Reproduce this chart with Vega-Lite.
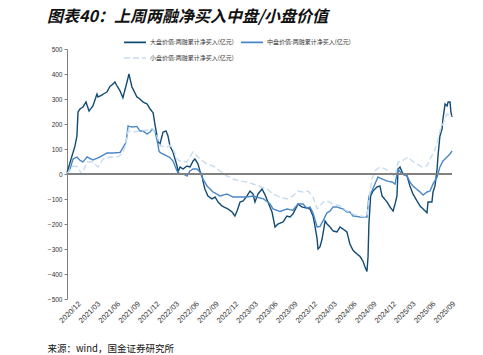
{
"$schema": "https://vega.github.io/schema/vega-lite/v6.json",
"width": 385,
"height": 250,
"autosize": {"type": "none"},
"padding": {"left": 67, "top": 49, "right": 31, "bottom": 56},
"background": "white",
"title": {"text": "图表40：上周两融净买入中盘/小盘价值", "anchor": "start", "frame": "group", "dx": -20, "offset": 5, "font": "Noto Sans CJK SC", "fontSize": 16, "fontWeight": "bold", "fontStyle": "italic", "color": "#111111"},
"config": {
  "view": {"stroke": null},
  "font": "Noto Sans CJK SC",
  "axisY": {"labelOverlap": false, "tickCount": 11},
  "legend": {"orient": "none", "legendX": 56, "legendY": -19, "columns": 2, "symbolType": "stroke", "symbolSize": 480, "symbolStrokeWidth": 1.6, "labelFontSize": 6, "labelFont": "Noto Sans CJK SC", "labelColor": "#333333", "rowPadding": -9, "columnPadding": 3, "labelOffset": 3, "title": null, "padding": 0}
},
"data": {"values": [
{"d":"2020-12-01","s":"大盘","v":5},{"d":"2020-12-24","s":"大盘","v":72},{"d":"2021-01-07","s":"大盘","v":112},{"d":"2021-01-16","s":"大盘","v":152},{"d":"2021-01-21","s":"大盘","v":248},{"d":"2021-01-30","s":"大盘","v":260},{"d":"2021-02-13","s":"大盘","v":268},{"d":"2021-02-27","s":"大盘","v":288},{"d":"2021-03-13","s":"大盘","v":252},{"d":"2021-03-31","s":"大盘","v":272},{"d":"2021-04-19","s":"大盘","v":320},{"d":"2021-04-24","s":"大盘","v":308},{"d":"2021-05-03","s":"大盘","v":312},{"d":"2021-06-04","s":"大盘","v":328},{"d":"2021-06-18","s":"大盘","v":350},{"d":"2021-07-02","s":"大盘","v":360},{"d":"2021-07-11","s":"大盘","v":368},{"d":"2021-07-21","s":"大盘","v":352},{"d":"2021-08-04","s":"大盘","v":332},{"d":"2021-08-17","s":"大盘","v":305},{"d":"2021-09-05","s":"大盘","v":368},{"d":"2021-09-14","s":"大盘","v":400},{"d":"2021-09-28","s":"大盘","v":348},{"d":"2021-10-21","s":"大盘","v":308},{"d":"2021-11-04","s":"大盘","v":300},{"d":"2021-11-18","s":"大盘","v":288},{"d":"2021-12-07","s":"大盘","v":280},{"d":"2021-12-21","s":"大盘","v":260},{"d":"2022-01-04","s":"大盘","v":245},{"d":"2022-01-13","s":"大盘","v":196},{"d":"2022-01-27","s":"大盘","v":128},{"d":"2022-02-05","s":"大盘","v":120},{"d":"2022-02-19","s":"大盘","v":168},{"d":"2022-03-05","s":"大盘","v":172},{"d":"2022-03-14","s":"大盘","v":152},{"d":"2022-03-23","s":"大盘","v":112},{"d":"2022-04-06","s":"大盘","v":88},{"d":"2022-04-25","s":"大盘","v":32},{"d":"2022-04-29","s":"大盘","v":8},{"d":"2022-05-09","s":"大盘","v":28},{"d":"2022-05-23","s":"大盘","v":20},{"d":"2022-06-10","s":"大盘","v":32},{"d":"2022-06-24","s":"大盘","v":28},{"d":"2022-07-08","s":"大盘","v":52},{"d":"2022-07-17","s":"大盘","v":60},{"d":"2022-07-31","s":"大盘","v":40},{"d":"2022-08-09","s":"大盘","v":12},{"d":"2022-08-19","s":"大盘","v":-8},{"d":"2022-08-23","s":"大盘","v":-28},{"d":"2022-09-01","s":"大盘","v":-60},{"d":"2022-09-15","s":"大盘","v":-88},{"d":"2022-10-04","s":"大盘","v":-100},{"d":"2022-10-18","s":"大盘","v":-92},{"d":"2022-11-01","s":"大盘","v":-112},{"d":"2022-11-19","s":"大盘","v":-128},{"d":"2022-12-17","s":"大盘","v":-140},{"d":"2023-01-05","s":"大盘","v":-152},{"d":"2023-01-18","s":"大盘","v":-168},{"d":"2023-01-28","s":"大盘","v":-148},{"d":"2023-02-11","s":"大盘","v":-112},{"d":"2023-02-25","s":"大盘","v":-108},{"d":"2023-03-15","s":"大盘","v":-88},{"d":"2023-03-29","s":"大盘","v":-68},{"d":"2023-04-12","s":"大盘","v":-80},{"d":"2023-04-21","s":"大盘","v":-112},{"d":"2023-05-05","s":"大盘","v":-80},{"d":"2023-05-24","s":"大盘","v":-60},{"d":"2023-06-07","s":"大盘","v":-84},{"d":"2023-06-20","s":"大盘","v":-112},{"d":"2023-07-09","s":"大盘","v":-152},{"d":"2023-07-23","s":"大盘","v":-212},{"d":"2023-08-06","s":"大盘","v":-200},{"d":"2023-08-29","s":"大盘","v":-192},{"d":"2023-09-16","s":"大盘","v":-168},{"d":"2023-09-30","s":"大盘","v":-172},{"d":"2023-10-14","s":"大盘","v":-160},{"d":"2023-11-02","s":"大盘","v":-128},{"d":"2023-11-06","s":"大盘","v":-120},{"d":"2023-11-25","s":"大盘","v":-132},{"d":"2023-12-18","s":"大盘","v":-136},{"d":"2024-01-01","s":"大盘","v":-140},{"d":"2024-01-15","s":"大盘","v":-168},{"d":"2024-01-24","s":"大盘","v":-208},{"d":"2024-02-03","s":"大盘","v":-260},{"d":"2024-02-07","s":"大盘","v":-300},{"d":"2024-02-16","s":"大盘","v":-292},{"d":"2024-02-26","s":"大盘","v":-260},{"d":"2024-03-11","s":"大盘","v":-188},{"d":"2024-03-20","s":"大盘","v":-200},{"d":"2024-04-03","s":"大盘","v":-212},{"d":"2024-04-17","s":"大盘","v":-228},{"d":"2024-05-05","s":"大盘","v":-232},{"d":"2024-05-19","s":"大盘","v":-212},{"d":"2024-06-02","s":"大盘","v":-220},{"d":"2024-06-20","s":"大盘","v":-232},{"d":"2024-07-04","s":"大盘","v":-280},{"d":"2024-07-18","s":"大盘","v":-305},{"d":"2024-08-06","s":"大盘","v":-320},{"d":"2024-08-20","s":"大盘","v":-330},{"d":"2024-09-03","s":"大盘","v":-350},{"d":"2024-09-12","s":"大盘","v":-372},{"d":"2024-09-21","s":"大盘","v":-390},{"d":"2024-09-26","s":"大盘","v":-330},{"d":"2024-09-30","s":"大盘","v":-200},{"d":"2024-10-08","s":"大盘","v":-88},{"d":"2024-10-19","s":"大盘","v":-68},{"d":"2024-11-06","s":"大盘","v":-52},{"d":"2024-11-20","s":"大盘","v":-48},{"d":"2024-11-30","s":"大盘","v":-88},{"d":"2024-12-23","s":"大盘","v":-112},{"d":"2025-01-06","s":"大盘","v":-132},{"d":"2025-01-20","s":"大盘","v":-148},{"d":"2025-01-29","s":"大盘","v":-120},{"d":"2025-02-07","s":"大盘","v":-88},{"d":"2025-02-12","s":"大盘","v":20},{"d":"2025-02-21","s":"大盘","v":28},{"d":"2025-03-07","s":"大盘","v":0},{"d":"2025-03-26","s":"大盘","v":-8},{"d":"2025-04-08","s":"大盘","v":-48},{"d":"2025-04-22","s":"大盘","v":-80},{"d":"2025-05-11","s":"大盘","v":-108},{"d":"2025-05-25","s":"大盘","v":-128},{"d":"2025-06-08","s":"大盘","v":-140},{"d":"2025-06-26","s":"大盘","v":-155},{"d":"2025-07-01","s":"大盘","v":-112},{"d":"2025-07-19","s":"大盘","v":-112},{"d":"2025-07-24","s":"大盘","v":-72},{"d":"2025-08-02","s":"大盘","v":-48},{"d":"2025-08-12","s":"大盘","v":20},{"d":"2025-08-16","s":"大盘","v":72},{"d":"2025-08-25","s":"大盘","v":152},{"d":"2025-09-04","s":"大盘","v":180},{"d":"2025-09-08","s":"大盘","v":220},{"d":"2025-09-18","s":"大盘","v":280},{"d":"2025-09-27","s":"大盘","v":272},{"d":"2025-10-02","s":"大盘","v":288},{"d":"2025-10-11","s":"大盘","v":288},{"d":"2025-10-15","s":"大盘","v":248},{"d":"2025-10-20","s":"大盘","v":228},
{"d":"2020-12-01","s":"中盘","v":0},{"d":"2020-12-15","s":"中盘","v":20},{"d":"2020-12-29","s":"中盘","v":60},{"d":"2021-01-16","s":"中盘","v":68},{"d":"2021-01-30","s":"中盘","v":55},{"d":"2021-02-13","s":"中盘","v":48},{"d":"2021-03-04","s":"中盘","v":68},{"d":"2021-03-31","s":"中盘","v":56},{"d":"2021-05-03","s":"中盘","v":68},{"d":"2021-06-04","s":"中盘","v":84},{"d":"2021-07-02","s":"中盘","v":84},{"d":"2021-08-04","s":"中盘","v":86},{"d":"2021-08-27","s":"中盘","v":120},{"d":"2021-09-01","s":"中盘","v":128},{"d":"2021-09-10","s":"中盘","v":192},{"d":"2021-09-28","s":"中盘","v":188},{"d":"2021-10-21","s":"中盘","v":190},{"d":"2021-11-04","s":"中盘","v":172},{"d":"2021-11-18","s":"中盘","v":172},{"d":"2021-12-07","s":"中盘","v":160},{"d":"2021-12-21","s":"中盘","v":168},{"d":"2021-12-30","s":"中盘","v":180},{"d":"2022-01-13","s":"中盘","v":170},{"d":"2022-01-27","s":"中盘","v":116},{"d":"2022-01-31","s":"中盘","v":92},{"d":"2022-02-05","s":"中盘","v":86},{"d":"2022-02-19","s":"中盘","v":80},{"d":"2022-03-09","s":"中盘","v":72},{"d":"2022-03-23","s":"中盘","v":66},{"d":"2022-04-06","s":"中盘","v":52},{"d":"2022-04-25","s":"中盘","v":12},{"d":"2022-05-09","s":"中盘","v":0},{"d":"2022-05-23","s":"中盘","v":0},{"d":"2022-06-10","s":"中盘","v":-8},{"d":"2022-06-24","s":"中盘","v":12},{"d":"2022-07-08","s":"中盘","v":20},{"d":"2022-07-26","s":"中盘","v":20},{"d":"2022-08-09","s":"中盘","v":8},{"d":"2022-08-23","s":"中盘","v":-20},{"d":"2022-09-11","s":"中盘","v":-48},{"d":"2022-09-25","s":"中盘","v":-60},{"d":"2022-10-09","s":"中盘","v":-72},{"d":"2022-10-27","s":"中盘","v":-80},{"d":"2022-11-10","s":"中盘","v":-88},{"d":"2022-12-12","s":"中盘","v":-80},{"d":"2023-01-09","s":"中盘","v":-92},{"d":"2023-02-11","s":"中盘","v":-92},{"d":"2023-03-15","s":"中盘","v":-92},{"d":"2023-04-12","s":"中盘","v":-88},{"d":"2023-05-14","s":"中盘","v":-96},{"d":"2023-05-31","s":"中盘","v":-100},{"d":"2023-06-16","s":"中盘","v":-110},{"d":"2023-06-30","s":"中盘","v":-120},{"d":"2023-07-14","s":"中盘","v":-140},{"d":"2023-08-15","s":"中盘","v":-150},{"d":"2023-09-16","s":"中盘","v":-140},{"d":"2023-10-14","s":"中盘","v":-145},{"d":"2023-11-06","s":"中盘","v":-120},{"d":"2023-11-30","s":"中盘","v":-120},{"d":"2023-12-18","s":"中盘","v":-138},{"d":"2024-01-01","s":"中盘","v":-132},{"d":"2024-01-15","s":"中盘","v":-156},{"d":"2024-02-03","s":"中盘","v":-212},{"d":"2024-02-16","s":"中盘","v":-210},{"d":"2024-03-01","s":"中盘","v":-188},{"d":"2024-03-20","s":"中盘","v":-155},{"d":"2024-04-03","s":"中盘","v":-148},{"d":"2024-04-17","s":"中盘","v":-132},{"d":"2024-05-05","s":"中盘","v":-132},{"d":"2024-06-02","s":"中盘","v":-140},{"d":"2024-06-20","s":"中盘","v":-152},{"d":"2024-07-04","s":"中盘","v":-152},{"d":"2024-07-18","s":"中盘","v":-168},{"d":"2024-08-06","s":"中盘","v":-170},{"d":"2024-08-20","s":"中盘","v":-172},{"d":"2024-09-21","s":"中盘","v":-172},{"d":"2024-09-30","s":"中盘","v":-88},{"d":"2024-10-14","s":"中盘","v":-68},{"d":"2024-10-28","s":"中盘","v":-40},{"d":"2024-11-11","s":"中盘","v":-12},{"d":"2024-11-30","s":"中盘","v":-20},{"d":"2024-12-23","s":"中盘","v":-28},{"d":"2025-01-15","s":"中盘","v":-32},{"d":"2025-01-29","s":"中盘","v":-40},{"d":"2025-02-12","s":"中盘","v":20},{"d":"2025-03-02","s":"中盘","v":0},{"d":"2025-03-26","s":"中盘","v":-8},{"d":"2025-04-08","s":"中盘","v":-32},{"d":"2025-04-22","s":"中盘","v":-48},{"d":"2025-05-25","s":"中盘","v":-72},{"d":"2025-06-08","s":"中盘","v":-84},{"d":"2025-06-26","s":"中盘","v":-72},{"d":"2025-07-10","s":"中盘","v":-68},{"d":"2025-07-24","s":"中盘","v":-40},{"d":"2025-08-12","s":"中盘","v":-12},{"d":"2025-08-25","s":"中盘","v":28},{"d":"2025-09-08","s":"中盘","v":52},{"d":"2025-09-27","s":"中盘","v":68},{"d":"2025-10-11","s":"中盘","v":80},{"d":"2025-10-20","s":"中盘","v":92},
{"d":"2020-12-01","s":"小盘","v":0},{"d":"2020-12-29","s":"小盘","v":32},{"d":"2021-01-16","s":"小盘","v":30},{"d":"2021-02-08","s":"小盘","v":0},{"d":"2021-03-04","s":"小盘","v":48},{"d":"2021-03-31","s":"小盘","v":48},{"d":"2021-04-24","s":"小盘","v":28},{"d":"2021-05-17","s":"小盘","v":60},{"d":"2021-06-18","s":"小盘","v":68},{"d":"2021-07-21","s":"小盘","v":68},{"d":"2021-08-13","s":"小盘","v":80},{"d":"2021-08-27","s":"小盘","v":108},{"d":"2021-09-10","s":"小盘","v":172},{"d":"2021-10-03","s":"小盘","v":168},{"d":"2021-11-04","s":"小盘","v":172},{"d":"2021-12-07","s":"小盘","v":176},{"d":"2021-12-21","s":"小盘","v":180},{"d":"2022-01-04","s":"小盘","v":180},{"d":"2022-01-22","s":"小盘","v":152},{"d":"2022-02-05","s":"小盘","v":112},{"d":"2022-03-09","s":"小盘","v":108},{"d":"2022-03-23","s":"小盘","v":115},{"d":"2022-04-06","s":"小盘","v":100},{"d":"2022-04-25","s":"小盘","v":60},{"d":"2022-05-09","s":"小盘","v":52},{"d":"2022-06-10","s":"小盘","v":48},{"d":"2022-06-24","s":"小盘","v":68},{"d":"2022-07-08","s":"小盘","v":88},{"d":"2022-07-26","s":"小盘","v":72},{"d":"2022-08-09","s":"小盘","v":60},{"d":"2022-09-11","s":"小盘","v":40},{"d":"2022-10-09","s":"小盘","v":32},{"d":"2022-11-10","s":"小盘","v":12},{"d":"2022-12-12","s":"小盘","v":-8},{"d":"2023-01-09","s":"小盘","v":-20},{"d":"2023-02-11","s":"小盘","v":-28},{"d":"2023-03-15","s":"小盘","v":-32},{"d":"2023-04-12","s":"小盘","v":-40},{"d":"2023-05-14","s":"小盘","v":-50},{"d":"2023-06-16","s":"小盘","v":-60},{"d":"2023-07-14","s":"小盘","v":-80},{"d":"2023-08-15","s":"小盘","v":-92},{"d":"2023-09-16","s":"小盘","v":-100},{"d":"2023-10-14","s":"小盘","v":-88},{"d":"2023-11-06","s":"小盘","v":-68},{"d":"2023-11-30","s":"小盘","v":-72},{"d":"2023-12-23","s":"小盘","v":-68},{"d":"2024-01-15","s":"小盘","v":-92},{"d":"2024-02-03","s":"小盘","v":-140},{"d":"2024-02-16","s":"小盘","v":-130},{"d":"2024-03-01","s":"小盘","v":-112},{"d":"2024-03-20","s":"小盘","v":-108},{"d":"2024-04-17","s":"小盘","v":-120},{"d":"2024-05-19","s":"小盘","v":-128},{"d":"2024-06-20","s":"小盘","v":-148},{"d":"2024-07-18","s":"小盘","v":-160},{"d":"2024-08-20","s":"小盘","v":-168},{"d":"2024-09-21","s":"小盘","v":-172},{"d":"2024-09-30","s":"小盘","v":-100},{"d":"2024-10-14","s":"小盘","v":-20},{"d":"2024-10-28","s":"小盘","v":12},{"d":"2024-11-20","s":"小盘","v":28},{"d":"2024-12-14","s":"小盘","v":20},{"d":"2025-01-06","s":"小盘","v":8},{"d":"2025-01-29","s":"小盘","v":-12},{"d":"2025-02-12","s":"小盘","v":48},{"d":"2025-03-02","s":"小盘","v":52},{"d":"2025-03-16","s":"小盘","v":60},{"d":"2025-03-30","s":"小盘","v":68},{"d":"2025-04-18","s":"小盘","v":52},{"d":"2025-05-11","s":"小盘","v":40},{"d":"2025-06-03","s":"小盘","v":28},{"d":"2025-06-26","s":"小盘","v":32},{"d":"2025-07-10","s":"小盘","v":60},{"d":"2025-07-24","s":"小盘","v":80},{"d":"2025-08-12","s":"小盘","v":120},{"d":"2025-08-25","s":"小盘","v":172},{"d":"2025-09-08","s":"小盘","v":200},{"d":"2025-09-27","s":"小盘","v":240},{"d":"2025-10-11","s":"小盘","v":232},{"d":"2025-10-20","s":"小盘","v":232}
]},
"layer": [
  {
    "mark": {"type": "line", "strokeWidth": 1.4},
    "encoding": {
      "x": {"field": "d", "type": "temporal",
        "scale": {"type": "utc", "domain": [{"year": 2020, "month": 12, "date": 1, "utc": true}, {"year": 2025, "month": 10, "date": 20, "utc": true}]},
        "axis": {"orient": "bottom", "domain": false, "ticks": false, "grid": false, "format": "%Y/%m", "labelAngle": -45, "labelAlign": "center", "labelBaseline": "middle", "labelPadding": 13, "labelOffset": 3, "labelFontSize": 7.5, "labelFont": "Liberation Sans", "labelColor": "#333333", "labelOverlap": false,
          "values": [{"year":2020,"month":12,"date":1,"utc":true},{"year":2021,"month":3,"date":1,"utc":true},{"year":2021,"month":6,"date":1,"utc":true},{"year":2021,"month":9,"date":1,"utc":true},{"year":2021,"month":12,"date":1,"utc":true},{"year":2022,"month":3,"date":1,"utc":true},{"year":2022,"month":6,"date":1,"utc":true},{"year":2022,"month":9,"date":1,"utc":true},{"year":2022,"month":12,"date":1,"utc":true},{"year":2023,"month":3,"date":1,"utc":true},{"year":2023,"month":6,"date":1,"utc":true},{"year":2023,"month":9,"date":1,"utc":true},{"year":2023,"month":12,"date":1,"utc":true},{"year":2024,"month":3,"date":1,"utc":true},{"year":2024,"month":6,"date":1,"utc":true},{"year":2024,"month":9,"date":1,"utc":true},{"year":2024,"month":12,"date":1,"utc":true},{"year":2025,"month":3,"date":1,"utc":true},{"year":2025,"month":6,"date":1,"utc":true},{"year":2025,"month":9,"date":1,"utc":true}],
          "title": "来源：wind，国金证券研究所", "titleAnchor": "start", "titleAlign": "left", "titleX": -20, "titleY": 52, "titleBaseline": "alphabetic", "titleFontSize": 9.5, "titleFontWeight": "normal", "titleColor": "#111111", "titleFont": "Noto Sans CJK SC"}},
      "y": {"field": "v", "type": "quantitative",
        "scale": {"domain": [-500, 500], "nice": false},
        "axis": {"values": [-500, -400, -300, -200, -100, 0, 100, 200, 300, 400, 500], "tickCount": 11, "labelOverlap": false, "grid": false, "title": null, "domainColor": "#808080", "tickColor": "#808080", "tickSize": 3, "labelFontSize": 6.5, "labelFont": "Liberation Sans", "labelColor": "#333333", "labelPadding": 2}},
      "color": {"field": "s", "type": "nominal",
        "scale": {"domain": ["大盘", "小盘", "中盘"], "range": ["#114b73", "#c8dcf1", "#4a86c6"]},
        "legend": {"labelExpr": "datum.label + '价值:两融累计净买入(亿元)'"}},
      "strokeDash": {"field": "s", "type": "nominal",
        "scale": {"domain": ["大盘", "小盘", "中盘"], "range": [[1, 0], [6, 3], [1, 0]]},
        "legend": {"labelExpr": "datum.label + '价值:两融累计净买入(亿元)'"}}
    }
  },
  {
    "mark": {"type": "rule", "color": "#808080", "strokeWidth": 1},
    "encoding": {"y": {"datum": 0}}
  }
]
}
